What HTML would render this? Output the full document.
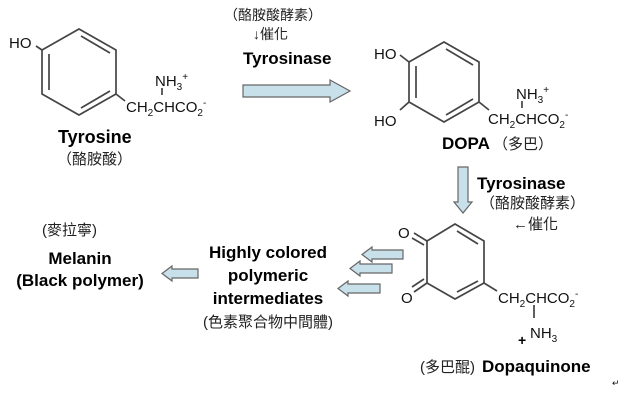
<!DOCTYPE html>
<html><head><meta charset="utf-8"><style>
html,body{margin:0;padding:0;background:#fff;}
svg{display:block;}
text{font-family:"Liberation Sans","Noto Sans CJK TC",sans-serif;fill:#111;}
.b{font-weight:bold;fill:#000;}
.cj{font-family:"Liberation Sans","Noto Sans CJK TC",sans-serif;fill:#222;}
</style></head><body>
<svg width="632" height="400" viewBox="0 0 632 400" xmlns="http://www.w3.org/2000/svg">
<g stroke="#444" stroke-width="1.7" fill="none">
<polygon points="79,29 116,50 116,94 79,115 42,94 42,50"/>
<line x1="81" y1="36" x2="110" y2="53"/>
<line x1="49" y1="54" x2="49" y2="90"/>
<line x1="110" y1="91" x2="81" y2="108"/>
<line x1="42" y1="50" x2="36" y2="46"/>
<line x1="116" y1="94" x2="125" y2="101"/>
<line x1="162" y1="88" x2="162" y2="95"/>
<polygon points="444,42 479,62 479,102 444,122 409,102 409,62"/>
<line x1="446" y1="49" x2="473" y2="65"/>
<line x1="416" y1="66" x2="416" y2="98"/>
<line x1="473" y1="99" x2="446" y2="115"/>
<line x1="409" y1="62" x2="400" y2="55"/>
<line x1="409" y1="102" x2="400" y2="110"/>
<line x1="479" y1="102" x2="489" y2="110"/>
<line x1="522" y1="101" x2="522" y2="108"/>
<polygon points="455,224 484,241 484,283 455,299 427,283 427,241"/>
<line x1="457" y1="231" x2="478" y2="244"/>
<line x1="478" y1="281" x2="457" y2="292"/>
<line x1="427" y1="241" x2="414" y2="233"/>
<line x1="424" y1="245" x2="412" y2="238"/>
<line x1="427" y1="283" x2="414" y2="292"/>
<line x1="424" y1="279" x2="412" y2="287"/>
<line x1="484" y1="283" x2="497" y2="291"/>
<line x1="534" y1="305" x2="534" y2="318"/>
</g>
<g fill="#c8e0ea" stroke="#666" stroke-width="1.2">
<polygon points="243,85 330,85 330,80 350,91 330,102 330,97 243,97"/>
<polygon points="458,167 468,167 468,202 472,202 463,213 454,202 458,202"/>
<polygon points="403,250 372,250 372,247 362,254.5 372,262 372,259 403,259"/>
<polygon points="392,264 360,264 360,261 350,268.5 360,276 360,273 392,273"/>
<polygon points="380,284 348,284 348,281 338,288.5 348,296 348,293 380,293"/>
<polygon points="198,269 172,269 172,266 162,273.5 172,281 172,278 198,278"/>
</g>
<text x="9" y="48" font-size="15">HO</text>
<text x="126" y="112" font-size="15">CH<tspan font-size="10" dy="4">2</tspan><tspan dy="-4">CHCO</tspan><tspan font-size="10" dy="4">2</tspan><tspan font-size="10" dy="-10">-</tspan></text>
<text x="155" y="86" font-size="15">NH<tspan font-size="10" dy="4">3</tspan><tspan font-size="10" dy="-10">+</tspan></text>
<text x="58" y="143" font-size="18" class="b">Tyrosine</text>
<text x="57" y="164" font-size="15" class="cj">（酪胺酸）</text>
<text x="224" y="20" font-size="14" class="cj">（酪胺酸酵素）</text>
<text x="253" y="39" font-size="14" class="cj">↓催化</text>
<text x="243" y="64" font-size="17" class="b">Tyrosinase</text>
<text x="374" y="59" font-size="15">HO</text>
<text x="374" y="126" font-size="15">HO</text>
<text x="488" y="124" font-size="15">CH<tspan font-size="10" dy="4">2</tspan><tspan dy="-4">CHCO</tspan><tspan font-size="10" dy="4">2</tspan><tspan font-size="10" dy="-10">-</tspan></text>
<text x="516" y="99" font-size="15">NH<tspan font-size="10" dy="4">3</tspan><tspan font-size="10" dy="-10">+</tspan></text>
<text x="442" y="149" font-size="17" class="b">DOPA</text>
<text x="493" y="149" font-size="15" class="cj">（多巴）</text>
<text x="477" y="189" font-size="17" class="b">Tyrosinase</text>
<text x="480" y="208" font-size="15" class="cj">（酪胺酸酵素）</text>
<text x="513" y="229" font-size="15" class="cj">←催化</text>
<text x="398" y="238" font-size="15">O</text>
<text x="401" y="303" font-size="15">O</text>
<text x="498" y="303" font-size="15">CH<tspan font-size="10" dy="4">2</tspan><tspan dy="-4">CHCO</tspan><tspan font-size="10" dy="4">2</tspan><tspan font-size="10" dy="-10">-</tspan></text>
<text x="518" y="345" font-size="14" class="b">+</text>
<text x="530" y="338" font-size="15">NH<tspan font-size="10" dy="4">3</tspan></text>
<text x="420" y="372" font-size="15" class="cj">(多巴醌)</text>
<text x="482" y="372" font-size="17" class="b">Dopaquinone</text>
<text x="612" y="386" font-size="9" fill="#888">↵</text>
<text x="268" y="258" font-size="17" class="b" text-anchor="middle">Highly colored</text>
<text x="268" y="281" font-size="17" class="b" text-anchor="middle">polymeric</text>
<text x="268" y="304" font-size="17" class="b" text-anchor="middle">intermediates</text>
<text x="268" y="327" font-size="15" class="cj" text-anchor="middle">(色素聚合物中間體)</text>
<text x="42" y="235" font-size="15" class="cj">(麥拉寧)</text>
<text x="80" y="264" font-size="17" class="b" text-anchor="middle">Melanin</text>
<text x="80" y="286" font-size="17" class="b" text-anchor="middle">(Black polymer)</text>
</svg>
</body></html>
